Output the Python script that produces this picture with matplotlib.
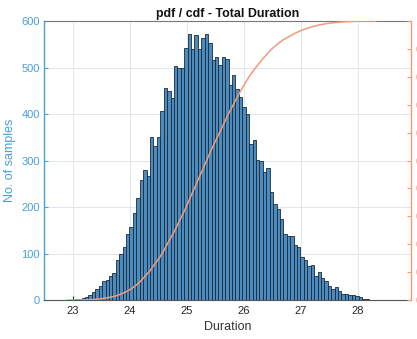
import numpy as np
import matplotlib
matplotlib.use("Agg")
import matplotlib.pyplot as plt

# Histogram data (Total Duration)
bin_start = 22.91
bin_width = 0.06
counts = [1, 1, 2, 3, 5, 7, 11, 18, 23, 30,
          41, 43, 51, 59, 86, 99, 113, 141, 156, 188,
          220, 258, 280, 267, 350, 332, 350, 407, 456, 449,
          434, 503, 500, 500, 543, 573, 540, 569, 540, 564,
          573, 553, 517, 522, 505, 523, 518, 462, 484, 454,
          437, 416, 401, 335, 345, 301, 298, 276, 284, 232,
          207, 196, 174, 142, 137, 137, 119, 115, 92, 86,
          73, 76, 52, 61, 47, 40, 31, 23, 27, 20,
          14, 12, 11, 11, 9, 7, 3, 2, 1, 1]

x_ticks = [23, 24, 25, 26, 27, 28]
y_ticks = [0, 100, 200, 300, 400, 500, 600]
cdf_ticks = [0, 0.1, 0.2, 0.3, 0.4, 0.5, 0.6, 0.7, 0.8, 0.9, 1.0]

plt.rcParams['font.family'] = ['Liberation Sans', 'DejaVu Sans']

counts = np.array(counts, dtype=float)
edges = bin_start + bin_width * np.arange(len(counts) + 1)
cdf = np.concatenate([[0.0], np.cumsum(counts) / counts.sum()])

blue = '#4a9fd8'
orange = '#f39a78'

fig = plt.figure(figsize=(4.17, 3.39), dpi=100)
ax = fig.add_axes([0.1055, 0.115, 0.8801, 0.823])

ax.bar(edges[:-1], counts, width=bin_width, align='edge',
       color='#4a8cc0', edgecolor='#1c2a38', linewidth=0.6, zorder=2)
ax.set_xlim(22.49, 28.93)
ax.set_ylim(0, 600)
ax.set_xticks(x_ticks)
ax.set_yticks(y_ticks)
ax.grid(True, color='#dfe6ec', linewidth=0.7, zorder=0)
ax.set_axisbelow(True)
ax.tick_params(axis='x', direction='in', length=3, labelsize=8,
               colors='#262626', pad=4)
ax.tick_params(axis='y', direction='in', length=3, labelsize=8,
               colors=blue, pad=3)
ax.spines['left'].set_color(blue)
ax.spines['left'].set_linewidth(1.0)
ax.spines['bottom'].set_color('#555555')
ax.spines['top'].set_color('#777777')
ax.spines['right'].set_visible(False)
ax.set_xlabel('Duration', fontsize=9, color='#333333', labelpad=4)
ax.set_ylabel('No. of samples', fontsize=9, color=blue, labelpad=4)
ax.set_title('pdf / cdf - Total Duration', fontsize=8.9, fontweight='bold',
             color='#111111', pad=3)

ax2 = ax.twinx()
ax2.plot(edges, cdf, color=orange, linewidth=1.1, zorder=3)
ax2.set_ylim(0, 1)
ax2.set_yticks(cdf_ticks)
ax2.set_yticklabels([f'{t:g}' for t in cdf_ticks])
ax2.tick_params(axis='y', direction='in', length=3, labelsize=8,
                colors=orange, pad=3)
ax2.spines['right'].set_color(orange)
ax2.spines['right'].set_linewidth(1.0)
ax2.spines['left'].set_visible(False)
ax2.spines['top'].set_visible(False)
ax2.spines['bottom'].set_visible(False)

fig.savefig('out.png', dpi=100)
